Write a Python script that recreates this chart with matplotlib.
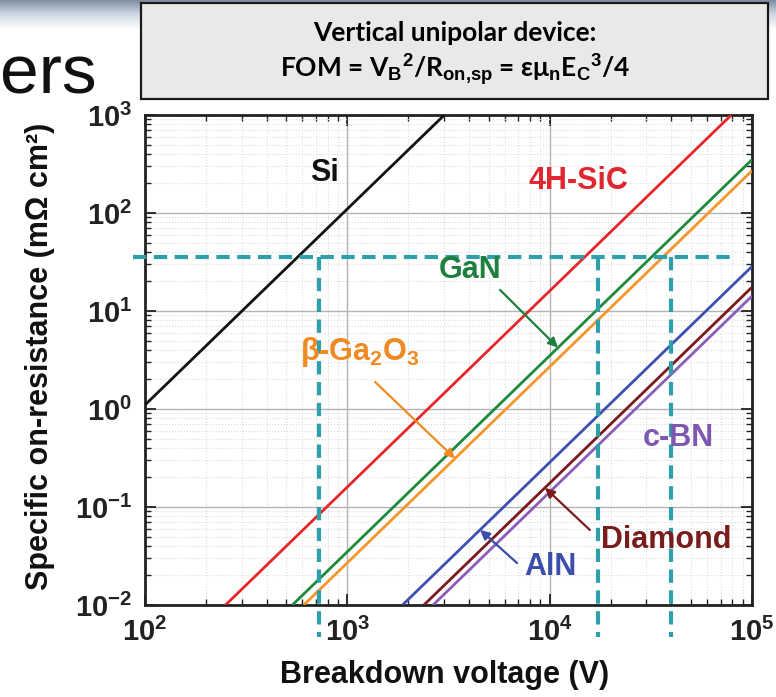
import numpy as np
import matplotlib
matplotlib.use('Agg')
import matplotlib.pyplot as plt
from matplotlib.patches import Rectangle
from matplotlib.ticker import LogLocator, NullFormatter, FixedLocator

plt.rcParams['font.family'] = ['Liberation Sans', 'DejaVu Sans']
plt.rcParams['mathtext.fontset'] = 'custom'
plt.rcParams['mathtext.rm'] = 'Liberation Sans:bold'
plt.rcParams['mathtext.bf'] = 'Liberation Sans:bold'
plt.rcParams['mathtext.it'] = 'Liberation Sans:bold:italic'
plt.rcParams['mathtext.default'] = 'bf'

# ---------------- data ----------------
materials = ['Si', '4H-SiC', 'GaN', 'Ga2O3', 'AlN', 'Diamond', 'c-BN']
v_start = [100, 250, 535, 609, 1873, 2390, 2654]        # V
r_start = [1.1, 0.01, 0.01, 0.01, 0.01, 0.01, 0.01]     # mOhm cm2
v_end = [3015, 79000, 1e5, 1e5, 1e5, 1e5, 1e5]
r_end = [1000, 1000, 350, 270, 28.5, 17.5, 14.2]
line_colors = ['#111111', '#E5262B', '#1D8A3C', '#F4962A', '#3D50B2', '#7A1A1E', '#8C5CBA']

# reference (dashed) guide lines
ref_r = 35.3
ref_v = [728, 17400, 39700]
ref_v_span = [87, 82400]
ref_r_low = 0.0047

x_ticks = [1e2, 1e3, 1e4, 1e5]
x_ticklabels = [r'$\mathbf{10^{2}}$', r'$\mathbf{10^{3}}$', r'$\mathbf{10^{4}}$', r'$\mathbf{10^{5}}$']
y_ticks = [1e-2, 1e-1, 1e0, 1e1, 1e2, 1e3]
y_ticklabels = [r'$\mathbf{10^{-2}}$', r'$\mathbf{10^{-1}}$', r'$\mathbf{10^{0}}$',
                r'$\mathbf{10^{1}}$', r'$\mathbf{10^{2}}$', r'$\mathbf{10^{3}}$']

# ---------------- figure ----------------
W, H = 776, 697
fig = plt.figure(figsize=(W / 100, H / 100), dpi=100)

def fx(px):
    return px / W

def fy(py):
    return 1 - py / H

# slide header gradient
hax = fig.add_axes([0, fy(30), 1, 30 / H], zorder=0)
grad = np.linspace(0, 1, 30)
top = np.array([0.50, 0.56, 0.64])
mid = np.array([0.80, 0.84, 0.88])
white = np.array([1.0, 1.0, 1.0])
rows = []
for g in grad:
    if g < 0.45:
        c = top + (mid - top) * (g / 0.45)
    else:
        c = mid + (white - mid) * ((g - 0.45) / 0.55)
    rows.append(c)
img = np.array(rows)[:, None, :].repeat(10, axis=1)
hax.imshow(img, aspect='auto', extent=[0, 1, 0, 1])
hax.axis('off')

# partial slide title
fig.text(fx(97), fy(94), 'ers', ha='right', va='baseline', fontsize=50,
         family=['Liberation Sans Narrow', 'Liberation Sans'], color='#111111')

# formula box
box = Rectangle((fx(141), fy(99)), fx(768) - fx(141), fy(3) - fy(99),
                transform=fig.transFigure, facecolor='#E9E9E9', edgecolor='#1a1a1a',
                linewidth=1.6, zorder=5)
fig.add_artist(box)
fig.text(fx(455), fy(33), 'Vertical unipolar device:', ha='center', va='center',
         fontsize=19, fontweight='bold', family=['Lato', 'DejaVu Sans'], zorder=6)
fig.text(fx(455), fy(70),
         r'FOM = V$_\mathbf{B}$$^\mathbf{2}$/R$_\mathbf{on{,}sp}$ = εμ$_\mathbf{n}$E$_\mathbf{C}$$^\mathbf{3}$/4',
         ha='center', va='center', fontsize=19, fontweight='bold',
         family=['Lato', 'DejaVu Sans'], zorder=6)

# main axes
ax = fig.add_axes([fx(145), fy(605), fx(752) - fx(145), fy(115) - fy(605)], zorder=2)
ax.set_xscale('log')
ax.set_yscale('log')
ax.set_xlim(1e2, 1e5)
ax.set_ylim(1e-2, 1e3)

for vs, rs, ve, re, c in zip(v_start, r_start, v_end, r_end, line_colors):
    ax.plot([vs, ve], [rs, re], color=c, lw=2.0, solid_capstyle='butt', zorder=3)

# dashed guides
dash_kw = dict(color='#2F9FAA', lw=3.0, linestyle=(0, (3.2, 1.8)), clip_on=False, zorder=4)
ax.plot(ref_v_span, [ref_r, ref_r], **dash_kw)
for v in ref_v:
    ax.plot([v, v], [ref_r, ref_r_low], **dash_kw)

# ticks
ax.xaxis.set_major_locator(FixedLocator(x_ticks))
ax.yaxis.set_major_locator(FixedLocator(y_ticks))
ax.set_xticklabels(x_ticklabels)
ax.set_yticklabels(y_ticklabels)
ax.xaxis.set_minor_locator(LogLocator(base=10, subs=np.arange(2, 10), numticks=20))
ax.yaxis.set_minor_locator(LogLocator(base=10, subs=np.arange(2, 10), numticks=20))
ax.xaxis.set_minor_formatter(NullFormatter())
ax.yaxis.set_minor_formatter(NullFormatter())
ax.tick_params(which='both', direction='in', top=True, right=True, colors='#222222')
ax.tick_params(which='major', length=8, width=1.3, labelsize=21, pad=9)
ax.tick_params(which='minor', length=4.5, width=1.0)
for s in ax.spines.values():
    s.set_linewidth(2.0)
    s.set_color('#222222')

ax.set_axisbelow(True)
ax.grid(which='major', color='#b4b4b4', lw=1.0, ls='-')
ax.grid(which='minor', color='#dcdcdc', lw=0.8, ls=':')

ax.set_xlabel('Breakdown voltage (V)', fontsize=22, fontweight='bold', color='#111111')
ax.set_ylabel('Specific on-resistance (mΩ cm²)', fontsize=22, fontweight='bold', color='#111111')
ax.xaxis.set_label_coords(0.494, -0.113)
ax.yaxis.set_label_coords(-0.148, 0.508)

# labels
lab_kw = dict(ha='center', va='center', fontsize=22, fontweight='bold', zorder=6)
ax.text(767, 256, 'Si', color='#111111', **lab_kw)
ax.text(13800, 212, '4H-SiC', color='#E0262E', **lab_kw)
ax.text(4036, 26.2, 'GaN', color='#1E8040', **lab_kw)
ax.text(1156, 3.82, r'β-Ga$_\mathbf{2}$O$_\mathbf{3}$', color='#F08A22', **lab_kw)
ax.text(43000, 0.506, 'c-BN', color='#7E57B0', **lab_kw)
ax.text(37580, 0.046, 'Diamond', color='#7B1C1C', **lab_kw)
ax.text(10040, 0.0244, 'AlN', color='#3B4EAA', **lab_kw)

arr = lambda c: dict(arrowstyle='-|>', color=c, lw=1.6, mutation_scale=14,
                     shrinkA=0, shrinkB=0)
ax.annotate('', xy=(10990, 4.23), xytext=(5688, 16.4), arrowprops=arr('#1E8040'), zorder=6)
ax.annotate('', xy=(3404, 0.313), xytext=(1371, 1.89), arrowprops=arr('#F08A22'), zorder=6)
ax.annotate('', xy=(9484, 0.157), xytext=(15810, 0.0582), arrowprops=arr('#7B1C1C'), zorder=6)
ax.annotate('', xy=(4530, 0.0585), xytext=(6900, 0.0268), arrowprops=arr('#3B4EAA'), zorder=6)

fig.savefig('out.png', dpi=100)
